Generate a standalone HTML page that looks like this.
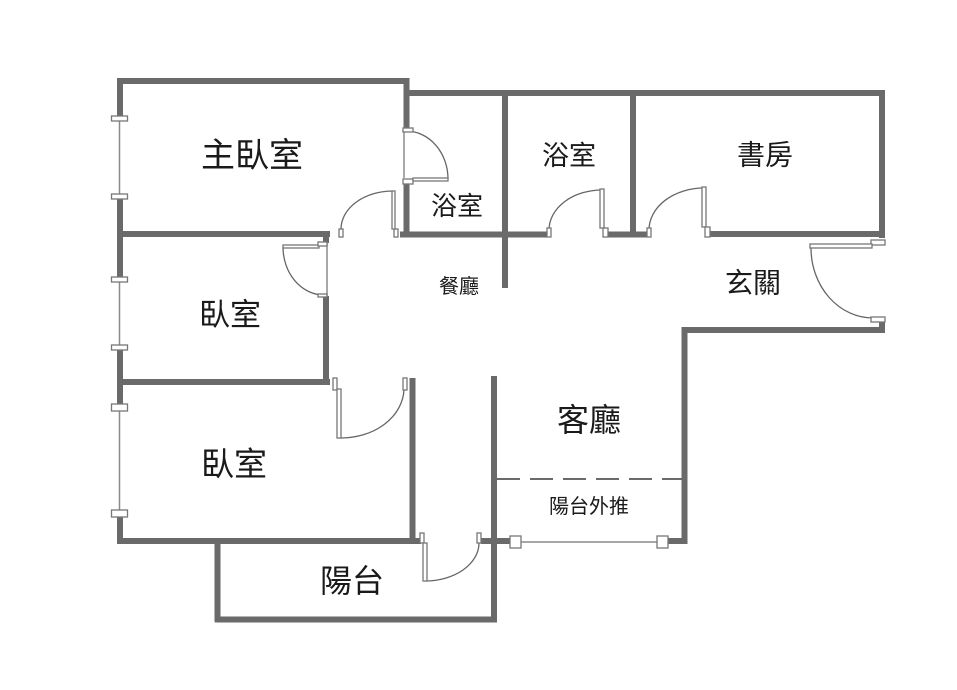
<!DOCTYPE html>
<html><head><meta charset="utf-8"><style>
html,body{margin:0;padding:0;background:#fff;}
svg{display:block;}
text{font-family:"Liberation Sans","Noto Sans CJK TC",sans-serif;fill:#1a1a1a;text-anchor:middle;dominant-baseline:central;}
</style></head><body>
<svg width="957" height="690" viewBox="0 0 957 690" xmlns="http://www.w3.org/2000/svg">
<rect width="957" height="690" fill="#fff"/>
<g stroke="#6a6a6a" stroke-width="6" fill="none" stroke-linecap="butt">
  <!-- master bedroom -->
  <line x1="117" y1="81" x2="409" y2="81"/>
  <line x1="406.5" y1="78" x2="406.5" y2="129"/>
  <line x1="406.5" y1="183" x2="406.5" y2="237"/>
  <line x1="404" y1="93" x2="885" y2="93"/>
  <!-- left exterior -->
  <line x1="120" y1="78" x2="120" y2="116"/>
  <line x1="120" y1="199" x2="120" y2="277"/>
  <line x1="120" y1="349" x2="120" y2="404"/>
  <line x1="120" y1="517" x2="120" y2="544"/>
  <line x1="117" y1="234" x2="330" y2="234"/>
  <line x1="326" y1="231" x2="326" y2="243"/>
  <line x1="326" y1="296" x2="326" y2="385"/>
  <line x1="117" y1="382" x2="330" y2="382"/>
  <line x1="412.5" y1="378" x2="412.5" y2="544"/>
  <line x1="117" y1="541" x2="421" y2="541"/>
  <!-- balcony -->
  <line x1="217.5" y1="538" x2="217.5" y2="622"/>
  <line x1="215" y1="619.5" x2="497" y2="619.5"/>
  <line x1="494" y1="376" x2="494" y2="622"/>
  <line x1="481" y1="541" x2="510" y2="541"/>
  <line x1="668" y1="541" x2="687" y2="541"/>
  <line x1="684.5" y1="327" x2="684.5" y2="544"/>
  <line x1="682" y1="330" x2="885" y2="330"/>
  <line x1="882" y1="322" x2="882" y2="333"/>
  <!-- bathrooms / study -->
  <line x1="400" y1="234.5" x2="548" y2="234.5"/>
  <line x1="505" y1="93" x2="505" y2="288"/>
  <line x1="608" y1="234.5" x2="647" y2="234.5"/>
  <line x1="633" y1="93" x2="633" y2="237"/>
  <line x1="710" y1="234" x2="885" y2="234"/>
  <line x1="882" y1="90" x2="882" y2="238"/>
</g>
<!-- thin lines -->
<g stroke="#8a8a8a" stroke-width="1.5" fill="none">
  <line x1="119.5" y1="121" x2="119.5" y2="194"/>
  <line x1="119.5" y1="282" x2="119.5" y2="345"/>
  <line x1="119.5" y1="411" x2="119.5" y2="510"/>
  <line x1="521" y1="542" x2="657" y2="542"/>
  <line x1="327" y1="243" x2="327" y2="296"/>
  <line x1="404" y1="132" x2="404" y2="178"/>
</g>
<!-- dashed -->
<line x1="497" y1="479" x2="682" y2="479" stroke="#6a6a6a" stroke-width="2" stroke-dasharray="23 10"/>
<!-- door arcs -->
<g stroke="#666" stroke-width="1.3" fill="none">
  <path d="M341,229 A52,38 0 0 1 393,191"/>
  <path d="M448,179 A42,48 0 0 0 406,131"/>
  <path d="M283,247 A41,48 0 0 0 324,295"/>
  <path d="M340,438 A63,50 0 0 0 404,389"/>
  <path d="M425,581 A54,38 0 0 0 479,543"/>
  <path d="M549,230 A53,40 0 0 1 602,190"/>
  <path d="M649,230 A55,42 0 0 1 704,188"/>
  <path d="M811,248 A62,70 0 0 0 873,318"/>
</g>
<!-- jambs, leaves, windows -->
<g stroke="#777" stroke-width="1.3" fill="#fff">
  <rect x="111.5" y="116" width="16" height="5"/>
  <rect x="111.5" y="194" width="16" height="5"/>
  <rect x="111.5" y="277" width="16" height="5"/>
  <rect x="111.5" y="345" width="16" height="5"/>
  <rect x="111.5" y="404" width="16" height="7"/>
  <rect x="111.5" y="510" width="16" height="7"/>
  <!-- master door -->
  <rect x="339" y="229" width="4" height="8"/>
  <rect x="394" y="229" width="4" height="8"/>
  <rect x="392" y="191" width="3" height="38"/>
  <!-- bath1 door -->
  <rect x="403" y="128" width="10" height="4"/>
  <rect x="403" y="179" width="10" height="5"/>
  <rect x="413" y="178" width="35" height="3"/>
  <!-- bedroom2 door -->
  <rect x="283" y="245" width="36" height="3"/>
  <rect x="318" y="242" width="9" height="4"/>
  <rect x="318" y="294" width="9" height="3"/>
  <!-- bedroom3 door -->
  <rect x="333" y="378" width="4" height="12"/>
  <rect x="403" y="378" width="4" height="12"/>
  <rect x="337" y="389" width="4" height="49"/>
  <!-- balcony door -->
  <rect x="420" y="533" width="4" height="10"/>
  <rect x="477" y="533" width="4" height="10"/>
  <rect x="423" y="543" width="4" height="38"/>
  <!-- bath2 door -->
  <rect x="547" y="228" width="4" height="9"/>
  <rect x="603" y="228" width="5" height="9"/>
  <rect x="600" y="189" width="4" height="39"/>
  <!-- study door -->
  <rect x="647" y="228" width="4" height="9"/>
  <rect x="702" y="187" width="4" height="40"/>
  <rect x="705" y="227" width="5" height="10"/>
  <!-- entrance door -->
  <rect x="871" y="240" width="14" height="5"/>
  <rect x="871" y="317" width="14" height="5"/>
  <rect x="810" y="244" width="62" height="4"/>
  <!-- living windows -->
  <rect x="510" y="536" width="11" height="12"/>
  <rect x="657" y="536" width="11" height="12"/>
</g>
<!-- labels -->
<text x="252" y="156" font-size="34">主臥室</text>
<text x="457" y="206" font-size="26">浴室</text>
<text x="569" y="156" font-size="27">浴室</text>
<text x="765" y="155" font-size="28">書房</text>
<text x="753" y="283" font-size="28">玄關</text>
<text x="459" y="287" font-size="20">餐廳</text>
<text x="230" y="315" font-size="31">臥室</text>
<text x="234" y="464" font-size="33">臥室</text>
<text x="352" y="581" font-size="32">陽台</text>
<text x="589" y="420" font-size="32">客廳</text>
<text x="589" y="507" font-size="20">陽台外推</text>
</svg>
</body></html>
